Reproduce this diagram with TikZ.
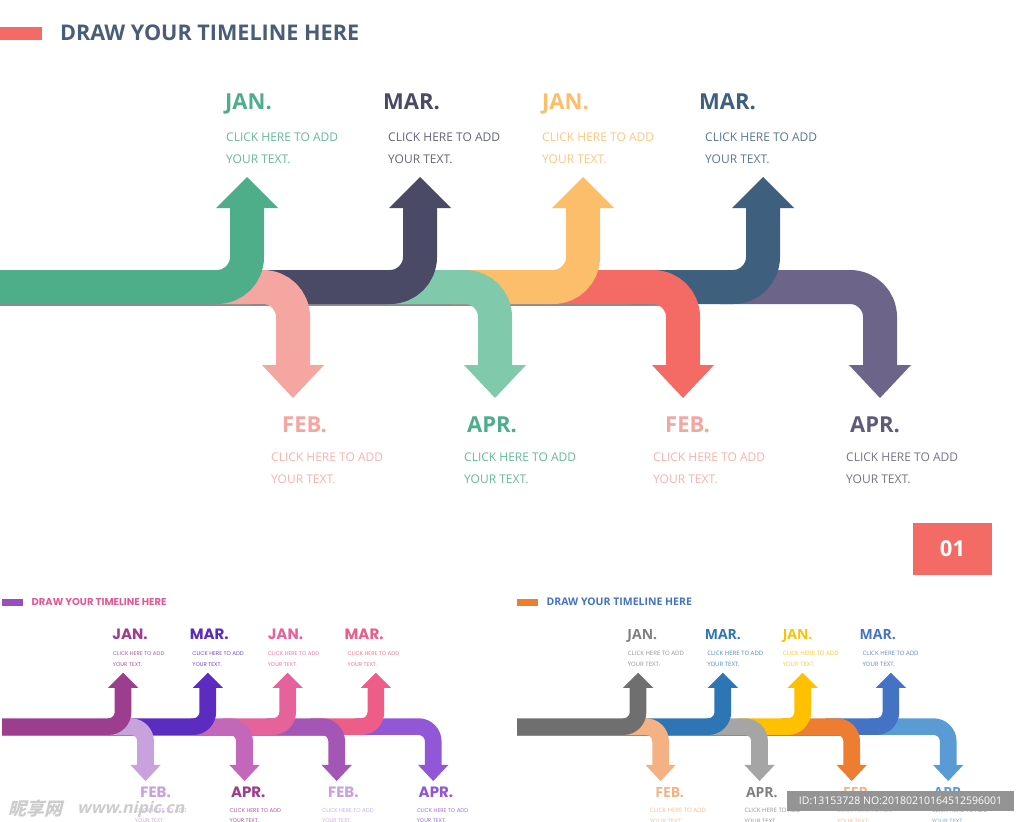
\documentclass[tikz,border=0pt]{standalone}
\usepackage{fontspec}
\newfontfamily\opensans{Open Sans}
\newfontfamily\poppins{Poppins}
\newfontfamily\cjk{Noto Sans CJK SC}

% colours of the big slide
\definecolor{top-bar}{HTML}{F46B65}\definecolor{top-head}{HTML}{4A5D78}
\definecolor{top-c1}{HTML}{4DAE89}\definecolor{top-c2}{HTML}{F6A6A0}
\definecolor{top-c3}{HTML}{4A4A66}\definecolor{top-c4}{HTML}{80C9AA}
\definecolor{top-c5}{HTML}{FDBE6B}\definecolor{top-c6}{HTML}{F46B65}
\definecolor{top-c7}{HTML}{3F5F7F}\definecolor{top-c8}{HTML}{6C6589}
\definecolor{top-m1}{HTML}{4DAE89}\definecolor{top-m2}{HTML}{F6A6A0}
\definecolor{top-m3}{HTML}{4A4A66}\definecolor{top-m4}{HTML}{4DAE89}
\definecolor{top-m5}{HTML}{FDBE6B}\definecolor{top-m6}{HTML}{F6A6A0}
\definecolor{top-m7}{HTML}{3F5F7F}\definecolor{top-m8}{HTML}{5E5A78}
% purple slide
\definecolor{pl-bar}{HTML}{9B4DBB}\definecolor{pl-head}{HTML}{E15A97}
\definecolor{pl-c1}{HTML}{9C3D8E}\definecolor{pl-c2}{HTML}{C9A1DC}
\definecolor{pl-c3}{HTML}{5B2CBF}\definecolor{pl-c4}{HTML}{C267B9}
\definecolor{pl-c5}{HTML}{E6629B}\definecolor{pl-c6}{HTML}{A356B5}
\definecolor{pl-c7}{HTML}{EE5D87}\definecolor{pl-c8}{HTML}{9157D6}
\definecolor{pl-m1}{HTML}{9C3D8E}\definecolor{pl-m2}{HTML}{C9A1DC}
\definecolor{pl-m3}{HTML}{5B2CBF}\definecolor{pl-m4}{HTML}{9C3D8E}
\definecolor{pl-m5}{HTML}{E6629B}\definecolor{pl-m6}{HTML}{C9A1DC}
\definecolor{pl-m7}{HTML}{EE5D87}\definecolor{pl-m8}{HTML}{9157D6}
% office slide
\definecolor{of-bar}{HTML}{ED7D31}\definecolor{of-head}{HTML}{4472C4}
\definecolor{of-c1}{HTML}{6F6F6F}\definecolor{of-c2}{HTML}{F4B183}
\definecolor{of-c3}{HTML}{2E75B6}\definecolor{of-c4}{HTML}{A5A5A5}
\definecolor{of-c5}{HTML}{FFC000}\definecolor{of-c6}{HTML}{ED7D31}
\definecolor{of-c7}{HTML}{4472C4}\definecolor{of-c8}{HTML}{5B9BD5}
\definecolor{of-m1}{HTML}{7F7F7F}\definecolor{of-m2}{HTML}{F4B183}
\definecolor{of-m3}{HTML}{2E75B6}\definecolor{of-m4}{HTML}{7F7F7F}
\definecolor{of-m5}{HTML}{FFC000}\definecolor{of-m6}{HTML}{F4B183}
\definecolor{of-m7}{HTML}{4472C4}\definecolor{of-m8}{HTML}{5B9BD5}

\newcommand\tls{1}
\newcommand\tlmonth{\opensans\bfseries\fontsize{22}{22}\selectfont}
\newcommand\tldesc{\opensans\fontsize{12}{22}\selectfont}
\newcommand\tltitle{\opensans\bfseries\fontsize{21.6}{21.6}\selectfont}

\tikzset{
  month/.style={anchor=base west, inner sep=0pt, font=\tlmonth},
  desc/.style={anchor=north west, inner sep=0pt, align=left, font=\tldesc},
  head/.style={anchor=west, inner sep=0pt, font=\tltitle},
}

\newcommand\timeline[1]{%
  \fill[#1-bar] (0,27) rectangle (42,40);
  \node[head, text=#1-head] (#1-title) at (60,32.5) {DRAW YOUR TIMELINE HERE};
  % thin shadow under the band
  \draw[black, opacity=0.45, line width=1.5pt*\tls] (0,305) -- (660,305);
  % arrows, last one first so each lies under the one before
  \foreach \i/\xa/\xs/\up in {8/720/880/0, 7/630/763/1, 6/540/683/0, 5/450/583/1,
                              4/385/495/0, 3/250/420/1, 2/215/293/0, 1/0/247/1}{
    \pgfmathsetmacro\ye{\up ? 206 : 367}
    \pgfmathsetmacro\yb{\up ? 208 : 365}
    \pgfmathsetmacro\yt{\up ? 177 : 398}
    \draw[#1-c\i, line width=34pt*\tls, rounded corners=30pt*\tls]
      (\xa,287) -- (\xs,287) -- (\xs,\ye);
    \fill[#1-c\i] (\xs-31,\yb) -- (\xs+31,\yb) -- (\xs,\yt) -- cycle;
  }
  % labels
  \foreach \i/\xm/\ym/\xd/\yd/\mon in {1/225/110/226/133/JAN., 2/282/432/271/453/FEB.,
      3/383/110/388/133/MAR., 4/467/432/464/453/APR., 5/542/110/542/133/JAN.,
      6/665/432/653/453/FEB., 7/699/110/705/133/MAR., 8/850/432/846/453/APR.}{
    \node[month, text=#1-m\i] (#1-mon\i) at (\xm,\ym) {\mon};
    \node[desc, text=#1-m\i!85] (#1-txt\i) at (\xd,\yd) {CLICK HERE TO ADD\\YOUR TEXT.};
  }
}

\begin{document}
\begin{tikzpicture}[x=1pt, y=-1pt]
  \useasboundingbox (0,0) rectangle (1024,821);
  \fill[white] (0,0) rectangle (1024,821);

  \timeline{top}
  \node[fill=top-bar, text=white, inner sep=0pt, minimum width=79pt, minimum height=52pt,
        font=\opensans\bfseries\fontsize{22}{22}\selectfont] (num) at (952.5,549) {01};

  \begin{scope}[shift={(2,586)}, scale=0.49]
    \def\tls{0.49}
    \def\tlmonth{\poppins\bfseries\fontsize{15}{15}\selectfont}
    \def\tldesc{\poppins\fontsize{5.5}{10.8}\selectfont}
    \def\tltitle{\poppins\bfseries\fontsize{10}{10}\selectfont}
    \timeline{pl}
  \end{scope}

  \begin{scope}[shift={(517,586)}, scale=0.49]
    \def\tls{0.49}
    \def\tlmonth{\opensans\bfseries\fontsize{14}{14}\selectfont}
    \def\tldesc{\opensans\fontsize{6}{10.8}\selectfont}
    \def\tltitle{\opensans\bfseries\fontsize{10.5}{10.5}\selectfont}
    \timeline{of}
  \end{scope}

  % watermarks
  \node[anchor=west, inner sep=0pt, text=gray!40, xslant=0.25, transform shape,
        font=\cjk\bfseries\fontsize{18}{18}\selectfont] (wm1) at (10,809) {昵享网};
  \node[anchor=west, inner sep=0pt, text=gray!40, xslant=0.25, transform shape,
        font=\opensans\bfseries\fontsize{16}{16}\selectfont] (wm2) at (78,809) {www.nipic.cn};
  \node[fill=black!42, text=white, inner sep=0pt, minimum width=227pt, minimum height=20pt,
        font=\opensans\fontsize{10.5}{12}\selectfont] (id) at (900.5,801)
        {ID:13153728 NO:20180210164512596001};
\end{tikzpicture}
\end{document}
